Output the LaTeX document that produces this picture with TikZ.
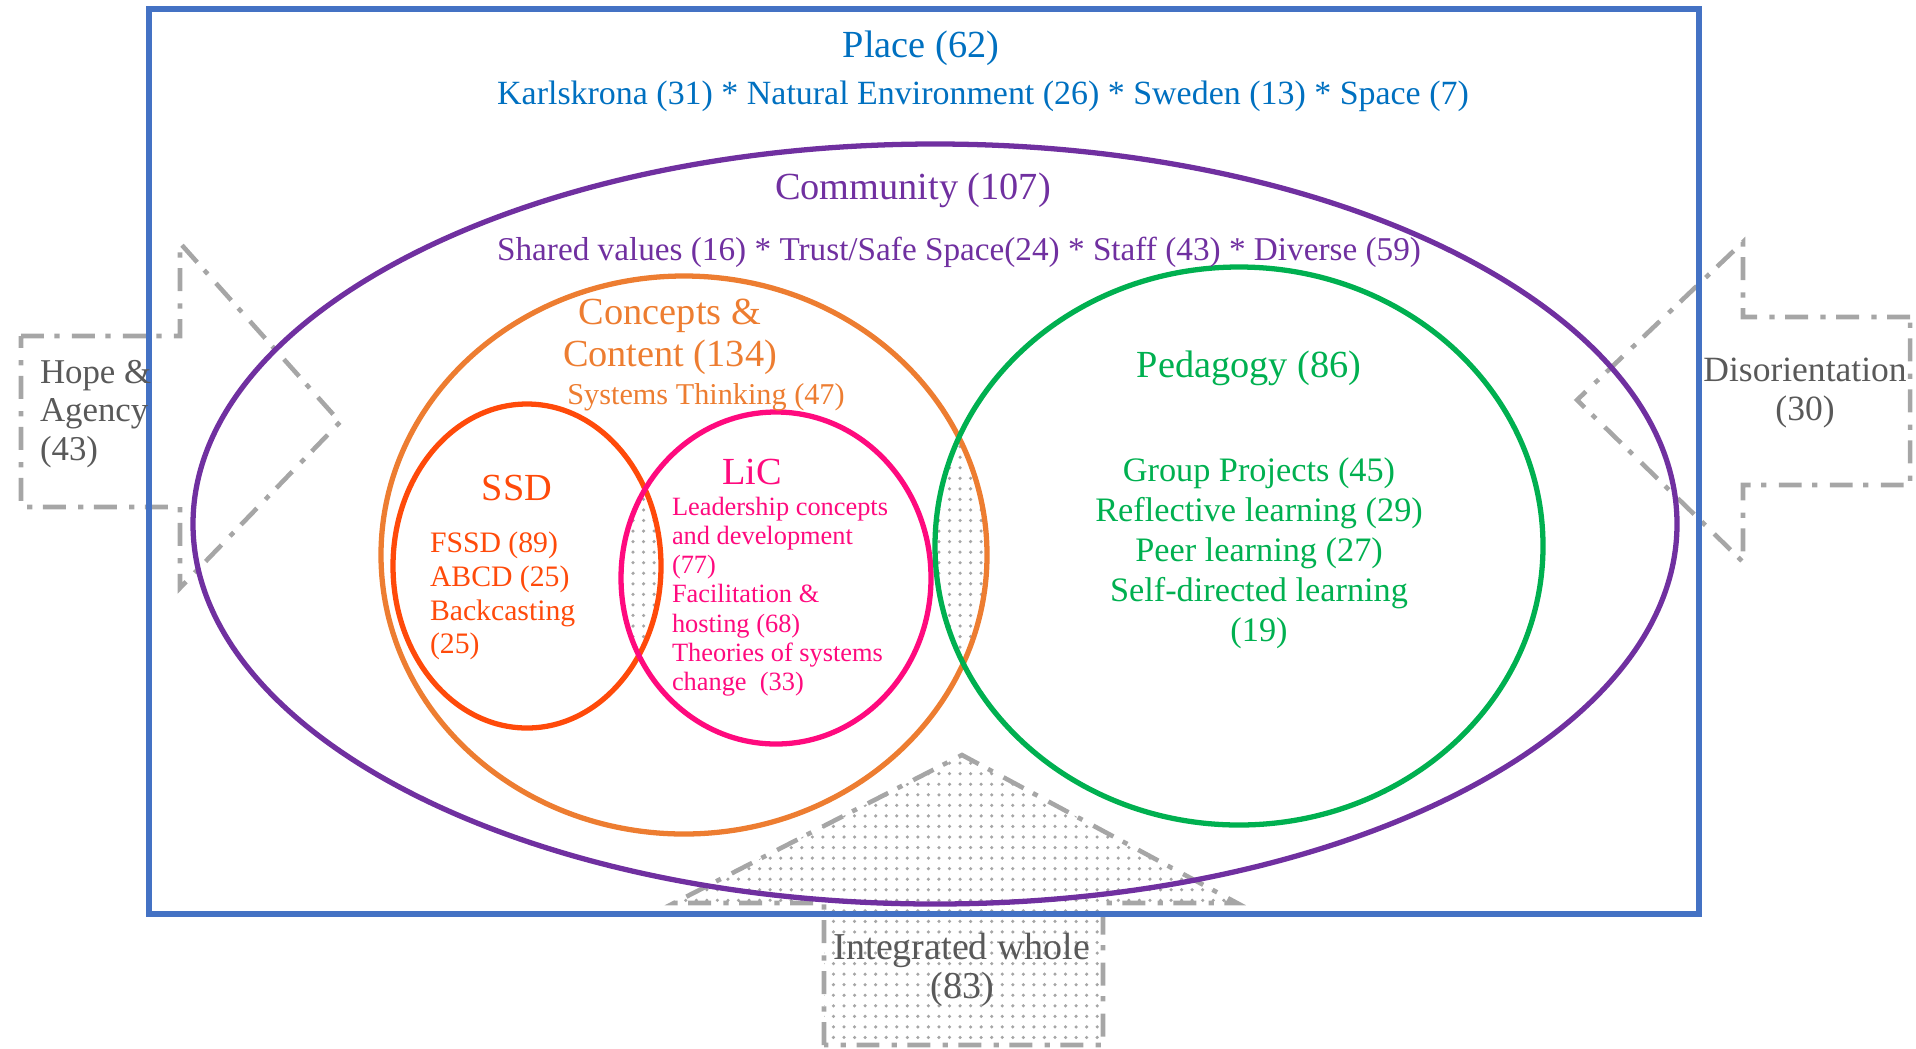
\documentclass[tikz,border=0pt]{standalone}
\usepackage{fontspec}
\setmainfont{Liberation Serif}
\usetikzlibrary{patterns}

\definecolor{placeblue}{HTML}{0070C0}
\definecolor{boxblue}{HTML}{4472C4}
\definecolor{commpurple}{HTML}{7030A0}
\definecolor{conorange}{HTML}{ED7D31}
\definecolor{ssdred}{HTML}{FF4A0A}
\definecolor{licpink}{HTML}{FF0A7E}
\definecolor{pedgreen}{HTML}{00B050}
\definecolor{arrowgray}{HTML}{A6A6A6}
\definecolor{labelgray}{HTML}{595959}

\begin{document}
\begin{tikzpicture}[x=0.01cm, y=-0.01cm, every node/.style={inner sep=0pt, outer sep=0pt},
    ring/.style={line width=1.5pt},
    blockarrow/.style={draw=arrowgray, line width=1.3pt, dash pattern=on 6.5pt off 3pt on 1.5pt off 3.5pt},
    dotfill/.style={pattern=dots, pattern color=arrowgray},
    side/.style={color=labelgray, font=\fontsize{10.1}{11}\selectfont, align=left},
    title/.style={font=\fontsize{10.9}{12}\selectfont},
    list/.style={font=\fontsize{9.6}{10.5}\selectfont}]
    \useasboundingbox (0,0) rectangle (1916,1048);

    % the three block arrows
    \draw[blockarrow] (21,336) -- (180,336) -- (180,243) -- (340,422) -- (180,588) -- (180,507) -- (21,507) -- cycle;
    \draw[blockarrow] (1910,317) -- (1743,317) -- (1743,242) -- (1577,400) -- (1743,562) -- (1743,485) -- (1910,485) -- cycle;
    \draw[blockarrow, dotfill] (824,1045) -- (824,903) -- (674,903) -- (962,755) -- (1237,903) -- (1103,903) -- (1103,1045) -- cycle;

    % overlaps
    \begin{scope}
        \clip (527,566) ellipse [x radius=134, y radius=162];
        \fill[dotfill] (776,578) ellipse [x radius=155, y radius=166];
    \end{scope}
    \begin{scope}
        \clip (684,555) ellipse [x radius=303, y radius=279];
        \fill[dotfill] (1239,546) ellipse [x radius=304, y radius=279];
    \end{scope}

    \draw[ring, boxblue] (149,9) rectangle (1699,914);
    \draw[ring, commpurple] (935,524) ellipse [x radius=742, y radius=380];
    \draw[ring, conorange] (684,555) ellipse [x radius=303, y radius=279];
    \draw[ring, ssdred] (527,566) ellipse [x radius=134, y radius=162];
    \draw[ring, licpink] (776,578) ellipse [x radius=155, y radius=166];
    \draw[ring, pedgreen] (1239,546) ellipse [x radius=304, y radius=279];

    \node[title, placeblue](place) at (921,48) {Place (62)};
    \node[list, placeblue, font=\fontsize{9.65}{10.5}\selectfont](place_items) at (983,96) {Karlskrona (31) * Natural Environment (26) * Sweden (13) * Space (7)};
    \node[title, commpurple](community) at (913,190) {Community (107)};
    \node[list, commpurple, font=\fontsize{9.45}{10.5}\selectfont](community_items) at (959,252) {Shared values (16) * Trust/Safe Space(24) * Staff (43) * Diverse (59)};

    \node[title, conorange, align=center](concepts) at (670,337) {Concepts \&\\Content (134)};
    \node[conorange, font=\fontsize{8.6}{10}\selectfont](systems) at (706,397) {Systems Thinking (47)};

    \node[title, ssdred](ssd) at (517,488) {SSD};
    \node[ssdred, align=left, anchor=north west, font=\fontsize{8.45}{9.6}\selectfont](ssd_items) at (430,532) {FSSD (89)\\ABCD (25)\\Backcasting\\(25)};

    \node[title, licpink](lic) at (752,472) {LiC};
    \node[licpink, align=left, anchor=north west, font=\fontsize{7.5}{8.3}\selectfont](lic_items) at (672,497) {Leadership concepts\\and development\\(77)\\Facilitation \&\\hosting (68)\\Theories of systems\\change\ \ (33)};

    \node[title, pedgreen](pedagogy) at (1249,368) {Pedagogy (86)};
    \node[pedgreen, align=center, font=\fontsize{9.75}{11.4}\selectfont](ped_items) at (1259,553) {Group Projects (45)\\Reflective learning (29)\\Peer learning (27)\\Self-directed learning\\(19)};

    \node[side, anchor=west, font=\fontsize{9.9}{11}\selectfont](hope) at (40,414) {Hope \&\\Agency\\(43)};
    \node[side, align=center](disorient) at (1805,393) {Disorientation\\(30)};
    \node[side, align=center, font=\fontsize{10.8}{11.2}\selectfont](whole) at (962,970) {Integrated whole\\(83)};
\end{tikzpicture}
\end{document}
